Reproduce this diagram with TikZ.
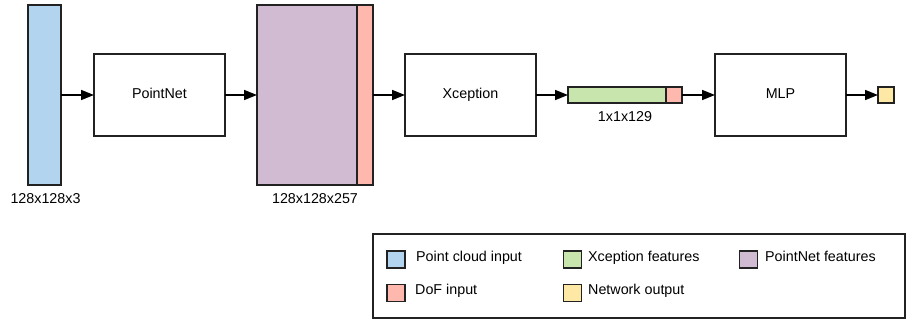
\documentclass[tikz,border=0pt]{standalone}
\usepackage{fontspec}
\setmainfont{Liberation Sans}
\usetikzlibrary{arrows.meta}

\definecolor{cloudblue}{HTML}{B2D4EE}
\definecolor{pnpurple}{HTML}{D1BBD3}
\definecolor{dofpink}{HTML}{FFB8AE}
\definecolor{xcgreen}{HTML}{C7E5AC}
\definecolor{outyellow}{HTML}{FDE9A5}
\definecolor{edge}{HTML}{222222}

\begin{document}
\begin{tikzpicture}[x=1pt,y=-1pt,
  font=\fontsize{14.3}{17}\selectfont,
  blk/.style={draw=edge,line width=1.4pt,inner sep=0pt,outer sep=0pt,rectangle},
  stagebox/.style={blk,fill=white,minimum width=131pt,minimum height=82pt,
     text height=0.72em,text depth=0pt},
  swatch/.style={blk,line width=1.2pt,minimum width=18pt,minimum height=17pt},
  lbl/.style={inner sep=0pt,text height=0.72em,text depth=0pt},
  flow/.style={draw=black,line width=1.6pt,-{Triangle[length=13pt,width=10pt]}}
]
\useasboundingbox (0,0) rectangle (906,321);

% feature maps and stages
\node[blk,fill=cloudblue,minimum width=33pt,minimum height=180pt] (cloud) at (44.5,95) {};
\node[stagebox] (pointnet) at (159.5,95) {PointNet};
\node[blk,fill=pnpurple,minimum width=100pt,minimum height=180pt] (pnfeat) at (307,95) {};
\node[blk,fill=dofpink,minimum width=16pt,minimum height=180pt] (dofa) at (365,95) {};
\node[stagebox] (xception) at (470.5,95) {Xception};
\node[blk,fill=xcgreen,minimum width=98pt,minimum height=16pt] (xcfeat) at (617,95) {};
\node[blk,fill=dofpink,minimum width=16pt,minimum height=16pt] (dofb) at (674,95) {};
\node[stagebox] (mlp) at (780.5,95) {MLP};
\node[blk,fill=outyellow,minimum width=16pt,minimum height=16pt] (out) at (886,95) {};

% size labels
\node[lbl] (szcloud) at (45.5,200) {128x128x3};
\node[lbl] (szpn) at (315,200) {128x128x257};
\node[lbl] (szxc) at (625,118) {1x1x129};

% data flow
\draw[flow] (cloud.east) -- (pointnet.west);
\draw[flow] (pointnet.east) -- (pnfeat.west);
\draw[flow] (dofa.east) -- (xception.west);
\draw[flow] (xception.east) -- (xcfeat.west);
\draw[flow] (dofb.east) -- (mlp.west);
\draw[flow] (mlp.east) -- (out.west);

% legend
\node[blk,line width=1.2pt,fill=white,minimum width=532pt,minimum height=84pt] (legend) at (639,276) {};
\node[swatch,fill=cloudblue] (lg1) at (396,259.5) {};
\node[lbl,anchor=west] (lt1) at (416,257.5) {Point cloud input};
\node[swatch,fill=xcgreen] (lg2) at (572.5,259.5) {};
\node[lbl,anchor=west] (lt2) at (588,257.5) {Xception features};
\node[swatch,fill=pnpurple] (lg3) at (748.5,259.5) {};
\node[lbl,anchor=west] (lt3) at (765,257.5) {PointNet features};
\node[swatch,fill=dofpink] (lg4) at (396,293) {};
\node[lbl,anchor=west] (lt4) at (415,291) {DoF input};
\node[swatch,fill=outyellow] (lg5) at (572.5,293) {};
\node[lbl,anchor=west] (lt5) at (588,291) {Network output};
\end{tikzpicture}
\end{document}
